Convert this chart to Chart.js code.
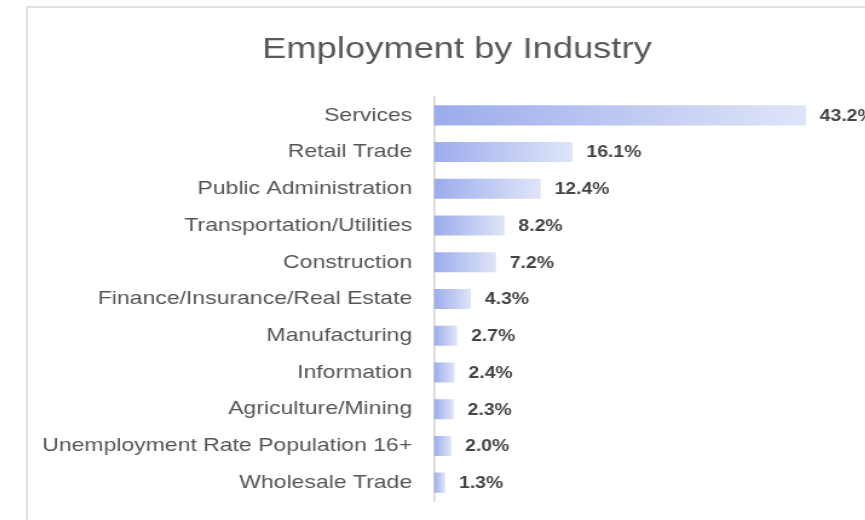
<!DOCTYPE html>
<html>
<head>
<meta charset="utf-8">
<script src="https://cdn.jsdelivr.net/npm/chart.js@4/dist/chart.umd.min.js"></script>
<style>
  html, body { margin: 0; padding: 0; background: #fff; overflow: hidden; }
  #card {
    position: absolute; left: 26px; top: 6px;
    width: 862px; height: 540px;
    border: 2px solid #e2e2e2; box-sizing: border-box;
    background: #fff;
  }
  /* the drawing is widened a little, like the exported graphic */
  #wrap {
    position: absolute; left: 0; top: 0; width: 709px; height: 536px;
    transform: scaleX(1.21); transform-origin: 0 0;
  }
</style>
</head>
<body>
<div id="card"><div id="wrap"><canvas id="barchart-industry"></canvas></div></div>
<script>
"use strict";

const industries = [
  'Services', 'Retail Trade', 'Public Administration', 'Transportation/Utilities',
  'Construction', 'Finance/Insurance/Real Estate', 'Manufacturing', 'Information',
  'Agriculture/Mining', 'Unemployment Rate Population 16+', 'Wholesale Trade'
];
const shares = [43.2, 16.1, 12.4, 8.2, 7.2, 4.3, 2.7, 2.4, 2.3, 2.0, 1.3];
const chartTitle = 'Employment by Industry';

const FONT = "'Liberation Sans', Arial, sans-serif";

// Each bar fades from a saturated blue at the axis to a pale tint at its tip
function barGradient(context) {
  const chart = context.chart;
  if (!chart.chartArea) return '#a9b6ee';
  const x = chart.scales.x;
  const x0 = x.getPixelForValue(0);
  const x1 = x.getPixelForValue(context.raw || 0);
  const g = chart.ctx.createLinearGradient(x0, 0, Math.max(x1, x0 + 1), 0);
  g.addColorStop(0, '#9cacec');
  g.addColorStop(1, '#dfe5f8');
  return g;
}

// Percent labels just past the end of every bar
const valueLabels = {
  id: 'valueLabels',
  afterDatasetsDraw(chart) {
    const ctx = chart.ctx;
    const meta = chart.getDatasetMeta(0);
    ctx.save();
    ctx.font = "bold 16px " + FONT;
    ctx.fillStyle = '#444';
    ctx.textAlign = 'left';
    ctx.textBaseline = 'middle';
    meta.data.forEach((bar, i) => {
      ctx.fillText(shares[i].toFixed(1) + '%', bar.x + 11.5, bar.y + 1);
    });
    ctx.restore();
  }
};

new Chart(document.getElementById('barchart-industry'), {
  type: 'bar',
  data: {
    labels: industries,
    datasets: [{
      data: shares,
      backgroundColor: barGradient,
      borderWidth: 0,
      barPercentage: 0.6,
      categoryPercentage: 0.91
    }]
  },
  options: {
    indexAxis: 'y',
    responsive: true,
    maintainAspectRatio: false,
    animation: false,
    layout: { padding: { top: 8, right: 0, bottom: 43, left: 0 } },
    scales: {
      x: {
        min: 0, max: 52.5,
        display: false
      },
      y: {
        grid: { display: false, drawTicks: false },
        border: { display: true, color: '#d4d4d4', width: 1.6 },
        afterFit(axis) { axis.width = 335.5; },
        ticks: {
          padding: 18,
          color: '#555',
          font: { family: FONT, size: 19 }
        }
      }
    },
    plugins: {
      legend: { display: false },
      tooltip: { enabled: false },
      title: {
        display: true,
        text: chartTitle,
        color: '#595959',
        font: { family: FONT, size: 30, weight: 'normal' },
        padding: { top: 16, bottom: 29 }
      }
    }
  },
  plugins: [valueLabels]
});
</script>
</body>
</html>
